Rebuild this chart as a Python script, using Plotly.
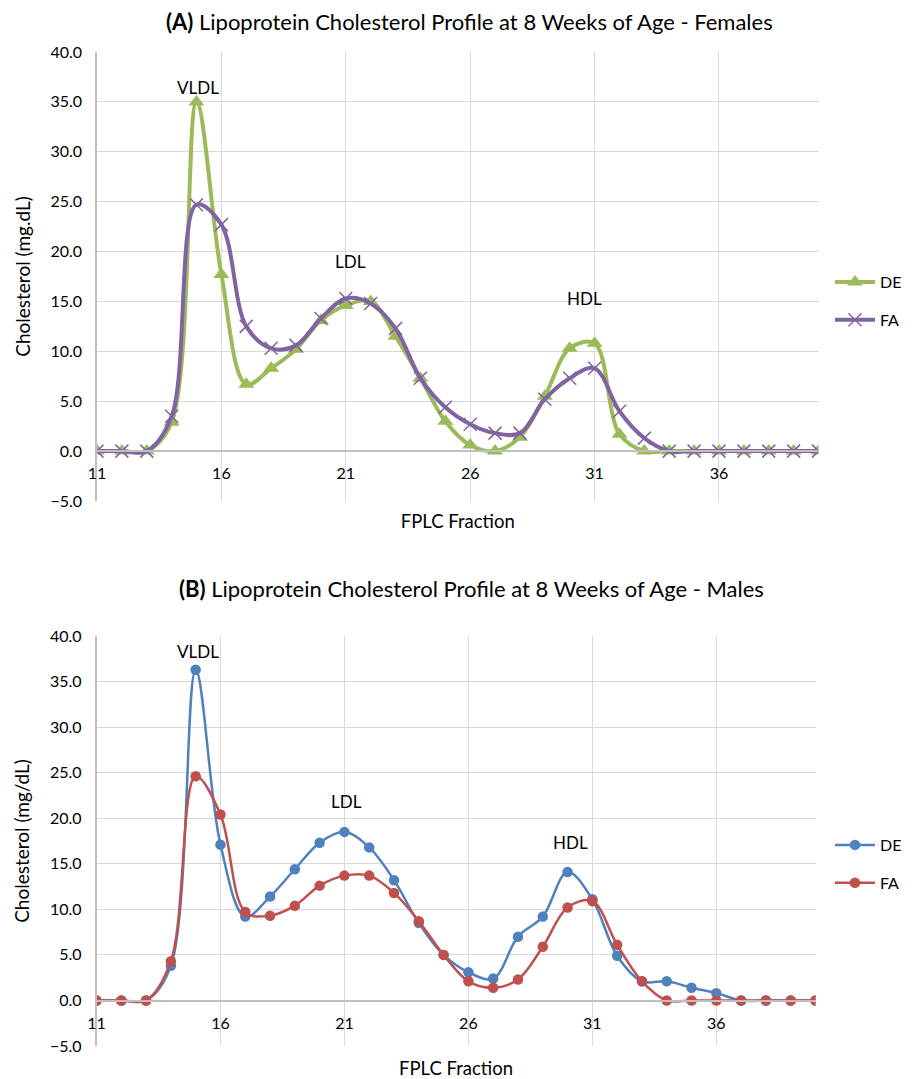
import plotly.graph_objects as go

fractions = list(range(11, 41))

# Panel A - Females
fem_de = [0, 0, 0, 2.9, 35.0, 17.7, 6.7, 8.3, 10.2, 13.1, 14.6, 15.0, 11.5, 7.3, 3.0,
          0.6, 0.0, 1.4, 5.5, 10.3, 10.8, 1.7, 0, 0, 0, 0, 0, 0, 0, 0]
fem_fa = [0, 0, 0, 3.5, 24.7, 22.7, 12.5, 10.3, 10.6, 13.3, 15.3, 14.8, 12.3, 7.3, 4.4,
          2.7, 1.8, 1.8, 5.2, 7.3, 8.3, 4.0, 1.3, 0, 0, 0, 0, 0, 0, 0]

# Panel B - Males
male_de = [0, 0, 0, 3.8, 36.3, 17.1, 9.2, 11.4, 14.4, 17.3, 18.5, 16.8, 13.2, 8.5, 5.0,
           3.1, 2.4, 7.0, 9.2, 14.1, 11.1, 4.9, 2.1, 2.1, 1.4, 0.8, 0, 0, 0, 0]
male_fa = [0, 0, 0, 4.3, 24.6, 20.4, 9.7, 9.3, 10.4, 12.6, 13.7, 13.7, 11.8, 8.7, 5.0,
           2.1, 1.4, 2.3, 5.9, 10.2, 10.9, 6.1, 2.1, 0, 0, 0, 0, 0, 0, 0]

peak_names = ["VLDL", "LDL", "HDL"]
peaks_a_x = [15.05, 21.2, 30.6]
peaks_a_y = [36.4, 19.0, 15.3]
peaks_b_x = [15.1, 21.1, 30.1]
peaks_b_y = [38.3, 21.8, 17.3]

OFF = 8  # page body margin
W, H = 924 - OFF, 1079 - OFF
FONT = "Lato, Carlito, sans-serif"
GREEN, PURPLE, BLUE, RED = "#9BBB59", "#8064A2", "#4F81BD", "#C0504D"
GRID = "#D9D9D9"
AXLINE = "#BFBFBF"

fig = go.Figure()

fig.add_trace(go.Scatter(x=fractions, y=fem_de, name="DE", mode="lines+markers",
                         line=dict(color=GREEN, width=4, shape="spline", smoothing=1),
                         marker=dict(symbol="triangle-up", size=14, color=GREEN),
                         xaxis="x3", yaxis="y", legend="legend", legendgroup="a1"))
fig.add_trace(go.Scatter(x=fractions, y=fem_fa, name="FA", mode="lines+markers",
                         line=dict(color=PURPLE, width=4, shape="spline", smoothing=1),
                         marker=dict(symbol="x-thin", size=13, color=PURPLE,
                                     line=dict(color=PURPLE, width=1.5)),
                         xaxis="x3", yaxis="y", legend="legend", legendgroup="a2"))
fig.add_trace(go.Scatter(x=fractions, y=male_de, name="DE", mode="lines+markers",
                         line=dict(color=BLUE, width=2.5, shape="spline", smoothing=1),
                         marker=dict(symbol="circle", size=10.5, color=BLUE),
                         xaxis="x4", yaxis="y2", legend="legend2", legendgroup="b1"))
fig.add_trace(go.Scatter(x=fractions, y=male_fa, name="FA", mode="lines+markers",
                         line=dict(color=RED, width=2.5, shape="spline", smoothing=1),
                         marker=dict(symbol="circle", size=10.5, color=RED),
                         xaxis="x4", yaxis="y2", legend="legend2", legendgroup="b2"))

def px(pix):
    return (pix - OFF) / W

def py(pix):
    return 1 - (pix - OFF) / H

# panel geometry (pixels in the page)
A = dict(l=97, r=818.5, t=52, b=501, z=451, ts=14)
B = dict(l=96.5, r=815.5, t=636, b=1046, z=1001, ts=16)

def grid_x(p, anchor, title):
    return dict(domain=[px(p["l"]), px(p["r"])], range=[11, 40], anchor=anchor,
                tick0=11, dtick=5, showgrid=True, gridcolor=GRID, gridwidth=1,
                showticklabels=False, showline=False, zeroline=False, ticks="",
                title=dict(text=title, font=dict(family=FONT, size=18.5, color="#000"),
                           standoff=p["ts"]),
                automargin=False)

def label_x(p, overlay):
    return dict(overlaying=overlay, anchor="free", position=py(p["z"]),
                range=[11, 40], tick0=11, dtick=5, showgrid=False, zeroline=False,
                showline=True, linecolor=AXLINE, linewidth=1.5,
                ticks="outside", ticklen=8, tickcolor="rgba(0,0,0,0)",
                tickfont=dict(family=FONT, size=16, color="#000"), automargin=False)

def y_ax(p, anchor, title):
    return dict(domain=[py(p["b"]), py(p["t"])], range=[-5, 40], anchor=anchor,
                tick0=0, dtick=5, tickformat=".1f", showgrid=True, gridcolor=GRID,
                showline=True, linecolor=AXLINE, linewidth=1.5, zeroline=False,
                ticks="outside", ticklen=10, tickcolor="rgba(0,0,0,0)",
                tickfont=dict(family=FONT, size=16, color="#000"),
                title=dict(text=title, font=dict(family=FONT, size=19, color="#000"),
                           standoff=15),
                automargin=False)

annotations = [
    dict(text="<b>(A)</b> Lipoprotein Cholesterol Profile at 8 Weeks of Age - Females",
         x=px(469), y=py(22), xref="paper", yref="paper", showarrow=False,
         font=dict(family=FONT, size=22, color="#000"), xanchor="center", yanchor="middle"),
    dict(text="<b>(B)</b> Lipoprotein Cholesterol Profile at 8 Weeks of Age - Males",
         x=px(472), y=py(588), xref="paper", yref="paper", showarrow=False,
         font=dict(family=FONT, size=22, color="#000"), xanchor="center", yanchor="middle"),
]
for n, xx, yy in zip(peak_names, peaks_a_x, peaks_a_y):
    annotations.append(dict(text=n, x=xx, y=yy, xref="x", yref="y", showarrow=False,
                            font=dict(family=FONT, size=17, color="#000")))
for n, xx, yy in zip(peak_names, peaks_b_x, peaks_b_y):
    annotations.append(dict(text=n, x=xx, y=yy, xref="x2", yref="y2", showarrow=False,
                            font=dict(family=FONT, size=17, color="#000")))

legend_common = dict(xanchor="left", yanchor="top", bgcolor="rgba(0,0,0,0)",
                     font=dict(family=FONT, size=16, color="#000"), tracegroupgap=14,
                     itemwidth=40)

fig.update_layout(
    width=W, height=H, margin=dict(l=0, r=0, t=0, b=0),
    paper_bgcolor="white", plot_bgcolor="white",
    xaxis=grid_x(A, "y", "FPLC Fraction"),
    xaxis2=grid_x(B, "y2", "FPLC Fraction"),
    xaxis3=label_x(A, "x"),
    xaxis4=label_x(B, "x2"),
    yaxis=y_ax(A, "x", "Cholesterol (mg.dL)"),
    yaxis2=y_ax(B, "x2", "Cholesterol (mg/dL)"),
    legend=dict(x=px(830), y=py(265), **legend_common),
    legend2=dict(x=px(830), y=py(828), **legend_common),
    annotations=annotations,
    showlegend=True,
)

fig.write_html("out.html")
